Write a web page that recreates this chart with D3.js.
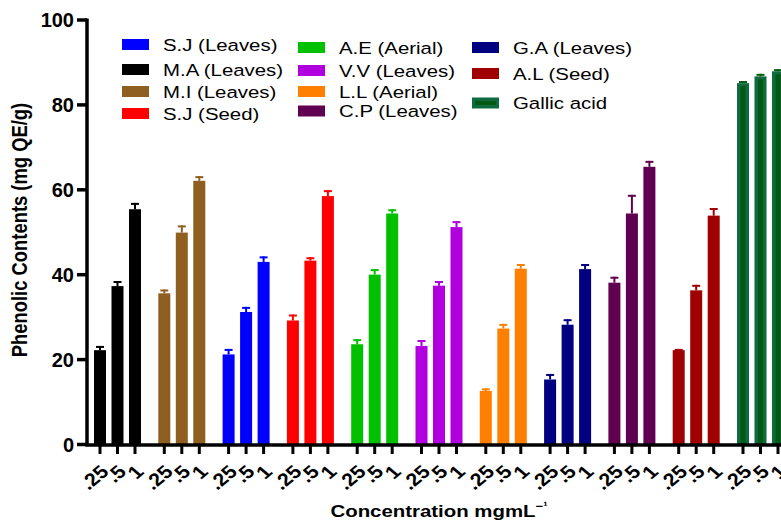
<!DOCTYPE html>
<meta charset="utf-8">
<script src="https://d3js.org/d3.v7.min.js"></script>
<body style="margin:0;background:#fff">
<svg width="781" height="522"></svg>
<style>
  text { font-family: Arial, "Liberation Sans", sans-serif; fill: #000; }
  .tick text { font-weight: bold; }
</style>
<script>
// groups in plotting order
var groups = ["M.A (Leaves)", "M.I (Leaves)", "S.J (Leaves)", "S.J (Seed)", "A.E (Aerial)",
              "V.V (Leaves)", "L.L (Aerial)", "G.A (Leaves)", "C.P (Leaves)", "A.L (Seed)", "Gallic acid"];
var concs = [".25", ".5", "1"];
var means = [
  [22.1, 37.2, 55.3],
  [35.5, 49.8, 62.0],
  [21.1, 31.1, 42.9],
  [29.1, 43.2, 58.4],
  [23.5, 39.9, 54.3],
  [23.1, 37.3, 51.1],
  [12.5, 27.2, 41.3],
  [15.2, 28.1, 41.2],
  [38.0, 54.3, 65.3],
  [22.1, 36.2, 53.8],
  [85.0, 86.6, 87.8]
];
var errs = [
  [1.0, 1.2, 1.5],
  [0.9, 1.7, 1.1],
  [1.3, 1.2, 1.3],
  [1.4, 0.8, 1.4],
  [1.2, 1.3, 1.0],
  [1.4, 1.1, 1.4],
  [0.6, 1.1, 1.1],
  [1.3, 1.3, 1.2],
  [1.4, 4.4, 1.4],
  [0.3, 1.3, 1.8],
  [0.5, 0.6, 0.5]
];
var colors = ["#000000", "#8f5f22", "#0000ff", "#ff0000", "#00c000",
              "#b000e0", "#ff8000", "#000080", "#600050", "#a00000", "#0f6b3f"];
var yTicks = [0, 20, 40, 60, 80, 100];
// legend columns (names, listed as in the figure)
var legendCols = [
  ["S.J (Leaves)", "M.A (Leaves)", "M.I (Leaves)", "S.J (Seed)"],
  ["A.E (Aerial)", "V.V (Leaves)", "L.L (Aerial)", "C.P (Leaves)"],
  ["G.A (Leaves)", "A.L (Seed)", "Gallic acid"]
];

var svg = d3.select("svg");
var axisX = 87, y0 = 444;
var stretch = 1.2; // the figure's text is a bit wider than it is tall

var y = d3.scaleLinear().domain([0, 100]).range([y0, 19.5]);
var x0 = d3.scaleBand().domain(groups).range([94, 94 + 64.3 * groups.length]);
var x1 = d3.scaleBand().domain(concs).range([0, 47]).paddingInner(0.314);

var color = d3.scaleOrdinal().domain(groups).range(colors);

var rows = [];
groups.forEach(function(g, i) {
  concs.forEach(function(c, j) {
    rows.push({ g: g, c: c, v: means[i][j], e: errs[i][j] });
  });
});

/* ----------- bars ----------- */
var bars = svg.append("g");
bars.selectAll("rect.bar").data(rows).enter().append("rect")
  .attr("class", "bar")
  .attr("x", function(d){ return x0(d.g) + x1(d.c); })
  .attr("width", x1.bandwidth())
  .attr("y", function(d){ return y(d.v); })
  .attr("height", function(d){ return y(0) - y(d.v); })
  .attr("fill", function(d){ return color(d.g); });

// gallic acid bars have a dark stripe down the middle
bars.selectAll("rect.stripe").data(rows.filter(function(d){ return d.g == "Gallic acid"; }))
  .enter().append("rect")
  .attr("x", function(d){ return x0(d.g) + x1(d.c) + x1.bandwidth() / 2 - 2.5; })
  .attr("width", 5)
  .attr("y", function(d){ return y(d.v) + 3; })
  .attr("height", function(d){ return y(0) - y(d.v) - 3; })
  .attr("fill", "#005a14");

/* ----------- error bars ----------- */
var eb = svg.append("g").attr("stroke-width", 2);
eb.selectAll("line.stem").data(rows).enter().append("line")
  .attr("x1", function(d){ return x0(d.g) + x1(d.c) + x1.bandwidth() / 2; })
  .attr("x2", function(d){ return x0(d.g) + x1(d.c) + x1.bandwidth() / 2; })
  .attr("y1", function(d){ return y(d.v); })
  .attr("y2", function(d){ return y(d.v + d.e); })
  .attr("stroke", function(d){ return d.g == "Gallic acid" ? "#005a14" : color(d.g); });
eb.selectAll("line.cap").data(rows).enter().append("line")
  .attr("x1", function(d){ return x0(d.g) + x1(d.c) + x1.bandwidth() / 2 - 4; })
  .attr("x2", function(d){ return x0(d.g) + x1(d.c) + x1.bandwidth() / 2 + 4; })
  .attr("y1", function(d){ return y(d.v + d.e) + 1; })
  .attr("y2", function(d){ return y(d.v + d.e) + 1; })
  .attr("stroke", function(d){ return d.g == "Gallic acid" ? "#005a14" : color(d.g); });

/* ----------- y axis ----------- */
var yAxis = svg.append("g")
  .attr("transform", "translate(" + axisX + ",0)")
  .call(d3.axisLeft(y).tickValues(yTicks).tickSize(10).tickPadding(3).tickFormat(d3.format("d")));
yAxis.select(".domain").attr("stroke-width", 3.5).attr("d", "M0," + (y(100) - 1) + "V" + (y0 + 2));
yAxis.selectAll(".tick line").attr("stroke-width", 3.5);
yAxis.selectAll(".tick text").attr("font-size", 20).attr("dy", "0.36em");

/* ----------- x axis ----------- */
var ticks = rows.map(function(d){ return { x: x0(d.g) + x1(d.c) + x1.bandwidth() / 2, c: d.c }; });
var xAxis = svg.append("g");
xAxis.append("line")
  .attr("x1", axisX - 1.75).attr("x2", 781)
  .attr("y1", y0 + 1).attr("y2", y0 + 1)
  .attr("stroke", "#000").attr("stroke-width", 3.5);
xAxis.selectAll("line.t").data(ticks).enter().append("line")
  .attr("x1", function(d){ return d.x; }).attr("x2", function(d){ return d.x; })
  .attr("y1", y0).attr("y2", y0 + 10)
  .attr("stroke", "#000").attr("stroke-width", 3);
xAxis.selectAll("text").data(ticks).enter().append("text")
  .attr("transform", function(d){
    return "translate(" + (d.x + 10) + "," + (y0 + 29) + ") scale(" + stretch + ",1) rotate(-45)";
  })
  .attr("text-anchor", "end")
  .attr("font-size", 18)
  .attr("font-weight", "bold")
  .text(function(d){ return d.c; });

/* ----------- axis titles ----------- */
svg.append("text")
  .attr("transform", "translate(27,230) scale(" + stretch + ",1) rotate(-90)")
  .attr("text-anchor", "middle")
  .attr("font-size", 18.4)
  .attr("font-weight", "bold")
  .text("Phenolic Contents (mg QE/g)");

var xt = svg.append("text")
  .attr("transform", "translate(439,517) scale(" + stretch + ",1)")
  .attr("text-anchor", "middle")
  .attr("font-size", 17)
  .attr("font-weight", "bold");
xt.append("tspan").text("Concentration mgmL");
xt.append("tspan").attr("font-size", 11).attr("dy", -7).text("\u2212\u00b9");

/* ----------- legend ----------- */
var colX = [122, 298, 472];
var rowY = [[44.5, 69.5, 91.5, 113.5], [47.5, 70.5, 91.5, 111], [47.5, 73.5, 103]];
var legend = svg.append("g");
legendCols.forEach(function(col, ci) {
  col.forEach(function(name, ri) {
    var gy = rowY[ci][ri];
    var item = legend.append("g").attr("transform", "translate(" + colX[ci] + "," + gy + ")");
    item.append("rect").attr("x", 0).attr("y", -5.5).attr("width", 27).attr("height", 11)
      .attr("fill", color(name));
    if (name == "Gallic acid") {
      item.append("rect").attr("x", 3).attr("y", -2).attr("width", 21).attr("height", 4)
        .attr("fill", "#005a14");
    }
    item.append("text")
      .attr("transform", "translate(41,6) scale(" + stretch + ",1)")
      .attr("font-size", 17).text(name);
  });
});
</script>
</body>
